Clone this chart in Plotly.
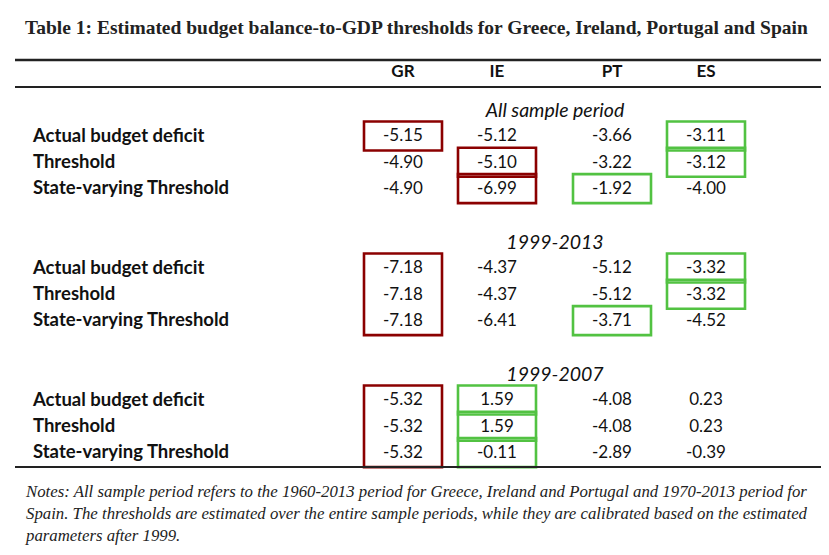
import plotly.graph_objects as go

countries = ["GR", "IE", "PT", "ES"]
periods = ["All sample period", "1999-2013", "1999-2007"]
row_labels = ["Actual budget deficit", "Threshold", "State-varying Threshold"]

all_sample = [[-5.15, -5.12, -3.66, -3.11],
              [-4.90, -5.10, -3.22, -3.12],
              [-4.90, -6.99, -1.92, -4.00]]
p_1999_2013 = [[-7.18, -4.37, -5.12, -3.32],
               [-7.18, -4.37, -5.12, -3.32],
               [-7.18, -6.41, -3.71, -4.52]]
p_1999_2007 = [[-5.32, 1.59, -4.08, 0.23],
               [-5.32, 1.59, -4.08, 0.23],
               [-5.32, -0.11, -2.89, -0.39]]
blocks = [all_sample, p_1999_2013, p_1999_2007]

# highlighted cells: (period, first row, last row, country)
red_boxes = [(0, 0, 0, "GR"), (0, 1, 1, "IE"), (0, 2, 2, "IE"),
             (1, 0, 2, "GR"), (2, 0, 2, "GR")]
green_boxes = [(0, 0, 0, "ES"), (0, 1, 1, "ES"), (0, 2, 2, "PT"),
               (1, 0, 0, "ES"), (1, 1, 1, "ES"), (1, 2, 2, "PT"),
               (2, 0, 0, "IE"), (2, 1, 1, "IE"), (2, 2, 2, "IE")]

title = "Table 1: Estimated budget balance-to-GDP thresholds for Greece, Ireland, Portugal and Spain"
notes = ("Notes: All sample period refers to the 1960-2013 period for Greece, Ireland and Portugal and 1970-2013 period for<br>"
         "Spain. The thresholds are estimated over the entire sample periods, while they are calibrated based on the estimated<br>"
         "parameters after 1999.")

# ---- layout of the table (page-pixel coordinates) ----
W, H = 829, 555
OFF = 8              # the page body margin moves the figure by this much
col_x = {"GR": 403, "IE": 497, "PT": 612, "ES": 706}
label_x = 33
period_x = 555
block_top = 112      # y of first period heading
block_step = 132
row_first = 25
row_step = 26.3

RED = "#8b0000"
GREEN = "#52c242"
SANS = "Lato"
SERIF = "Liberation Serif"
INK = "#111"


def row_y(b, r):
    return block_top + b * block_step + row_first + r * row_step


fig = go.Figure()

# header
fig.add_trace(go.Scatter(
    x=[col_x[c] for c in countries], y=[73] * len(countries),
    mode="text", text=[f"<b>{c}</b>" for c in countries],
    textfont=dict(family=SANS, size=17, color=INK), hoverinfo="skip"))

# period headings
fig.add_trace(go.Scatter(
    x=[period_x] * len(periods),
    y=[block_top + b * block_step for b in range(len(periods))],
    mode="text", text=[f"<i>{p}</i>" for p in periods],
    textfont=dict(family=SANS, size=19.5, color=INK), hoverinfo="skip"))

# row labels
lx, ly, lt = [], [], []
for b in range(len(blocks)):
    for r, lab in enumerate(row_labels):
        lx.append(label_x)
        ly.append(row_y(b, r))
        lt.append(f"<b>{lab}</b>")
fig.add_trace(go.Scatter(
    x=lx, y=ly, mode="text", text=lt, textposition="middle right",
    textfont=dict(family=SANS, size=18.5, color=INK), hoverinfo="skip"))

# cell values
vx, vy, vt = [], [], []
for b, block in enumerate(blocks):
    for r, row in enumerate(block):
        for c, v in zip(countries, row):
            vx.append(col_x[c])
            vy.append(row_y(b, r))
            vt.append(f"{v:.2f}")
fig.add_trace(go.Scatter(
    x=vx, y=vy, mode="text", text=vt,
    textfont=dict(family=SANS, size=17, color=INK), hoverinfo="skip"))

# boxes round highlighted cells
for boxes, colour in [(red_boxes, RED), (green_boxes, GREEN)]:
    for b, r0, r1, c in boxes:
        fig.add_shape(type="rect",
                      x0=col_x[c] - 39, x1=col_x[c] + 39,
                      y0=row_y(b, r0) - 15.5, y1=row_y(b, r1) + 13.5,
                      line=dict(color=colour, width=2.6))

# rules
for y, w in [(60, 2.6), (87, 2), (467, 2)]:
    fig.add_shape(type="line", x0=15, x1=W + OFF, y0=y, y1=y,
                  line=dict(color="#222", width=w))

fig.add_annotation(x=23, y=27, xref="x", yref="y", text=f"<b>{title}</b>",
                   showarrow=False, xanchor="left", yanchor="middle",
                   font=dict(family=SERIF, size=19.5, color="#222"))
fig.add_annotation(x=23, y=513, xref="x", yref="y", text=f"<i>{notes}</i>",
                   showarrow=False, xanchor="left", yanchor="middle", align="left",
                   font=dict(family=SERIF, size=16.8, color="#222"))

fig.update_layout(
    width=W, height=H, showlegend=False,
    margin=dict(l=0, r=0, t=0, b=0),
    plot_bgcolor="white", paper_bgcolor="white",
    xaxis=dict(range=[OFF, W + OFF], visible=False, fixedrange=True),
    yaxis=dict(range=[H + OFF, OFF], visible=False, fixedrange=True),
)

fig.write_html("out.html")
